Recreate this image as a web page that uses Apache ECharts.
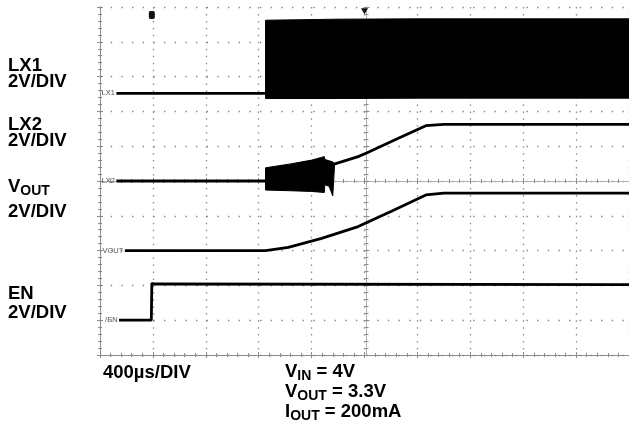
<!DOCTYPE html>
<html><head><meta charset="utf-8">
<script src="https://cdn.jsdelivr.net/npm/echarts@6/dist/echarts.min.js"></script>
<style>html,body{margin:0;padding:0;background:#fff}#c{width:629px;height:434px}</style>
</head><body><div id="c"></div><script>
// time in divisions (400µs/DIV); level in screen divisions from the bottom (2V/DIV)
const lx1Time = [0.31, 3.13];
const lx1Level = [7.52, 7.52];
const lx1BandTime = [3.13, 4.5, 6.0, 8.0, 10.0];
const lx1BandTop = [9.62, 9.65, 9.66, 9.66, 9.66];
const lx1BandBottom = [7.37, 7.37, 7.38, 7.38, 7.38];

const lx2Time = [0.31, 3.13, 4.44, 4.88, 5.05, 5.63, 6.16, 6.50, 10.0];
const lx2Level = [5.0, 5.0, 5.49, 5.70, 5.81, 6.22, 6.59, 6.63, 6.63];
const lx2BurstTime = [3.13, 3.6, 4.0, 4.24, 4.25, 4.33, 4.40, 4.43];
const lx2BurstTop = [5.38, 5.49, 5.60, 5.70, 5.62, 5.58, 5.55, 5.50];
const lx2BurstBottom = [4.74, 4.72, 4.70, 4.67, 4.89, 4.85, 4.57, 5.35];

const voutTime = [0.47, 3.13, 3.56, 4.19, 4.88, 5.52, 6.16, 6.50, 10.0];
const voutLevel = [3.0, 3.0, 3.09, 3.35, 3.69, 4.14, 4.60, 4.65, 4.65];

const enTime = [0.36, 0.97, 0.98, 1.05, 10.0];
const enLevel = [1.0, 1.0, 2.06, 2.04, 2.02];

const channelNames = ['LX1', 'LX2', 'VOUT', '/EN'];
const xDivs = 10, yDivs = 10;

const FONT = '"Liberation Sans", Arial, sans-serif';
const pairs = (t, v) => t.map((x, i) => [x, v[i]]);

function bandSeries(time, top, bottom) {
  return {
    type: 'custom', xAxisIndex: 0, yAxisIndex: 0, silent: true, z: 3,
    data: [[time[0], top[0]]],
    renderItem: function (params, api) {
      const pts = [];
      for (let i = 0; i < time.length; i++) pts.push(api.coord([time[i], top[i]]));
      for (let i = time.length - 1; i >= 0; i--) pts.push(api.coord([time[i], bottom[i]]));
      return { type: 'polygon', shape: { points: pts }, style: { fill: '#000', stroke: '#000', lineWidth: 1 } };
    }
  };
}

function trace(time, level, name) {
  return {
    type: 'line', xAxisIndex: 0, yAxisIndex: 0, data: pairs(time, level),
    showSymbol: false, symbol: 'none', z: 4,
    lineStyle: { color: '#000', width: 2.8 },
    markPoint: {
      symbol: 'circle', symbolSize: 1, itemStyle: { color: 'rgba(0,0,0,0)' },
      data: [{ coord: [time[0], level[0]] }],
      label: { show: true, position: 'left', distance: 1, formatter: name, fontSize: 7.5, color: '#555', fontFamily: FONT }
    }
  };
}

const gridGray = '#8a8a8a';
const axisGray = '#8c8c8c';
function xAx(opts) {
  return Object.assign({
    type: 'value', min: 0, max: xDivs, interval: 1,
    axisLabel: { show: false }, splitLine: { show: false },
    axisLine: { show: true, lineStyle: { color: axisGray, width: 1 } },
    axisTick: { show: true, inside: true, length: 3, lineStyle: { color: axisGray } },
    minorTick: { show: true, splitNumber: 5, length: 2, lineStyle: { color: axisGray } }
  }, opts);
}
function yAx(opts) {
  return Object.assign({
    type: 'value', min: 0, max: yDivs, interval: 1,
    axisLabel: { show: false }, splitLine: { show: false },
    axisLine: { show: true, lineStyle: { color: axisGray, width: 1 } },
    axisTick: { show: true, inside: true, length: 3, lineStyle: { color: axisGray } },
    minorTick: { show: true, splitNumber: 5, length: 2, lineStyle: { color: axisGray } }
  }, opts);
}

const measureCtx = document.createElement('canvas').getContext('2d');
function richLine(x, y, parts) {
  const els = [];
  let cx = x;
  parts.forEach(p => {
    const font = 'bold ' + p[1] + 'px ' + FONT;
    measureCtx.font = font;
    els.push({ type: 'text', x: cx, y: y + p[2], style: { text: p[0], font: font, fill: '#000', verticalAlign: 'middle', align: 'left' } });
    cx += measureCtx.measureText(p[0]).width;
  });
  return els;
}

const BIG = 18.5, SUB = 14;
const graphics = [].concat(
  richLine(8, 66, [['LX1', BIG, 0]]),
  richLine(8, 82, [['2V/DIV', BIG, 0]]),
  richLine(8, 125, [['LX2', BIG, 0]]),
  richLine(8, 141, [['2V/DIV', BIG, 0]]),
  richLine(8, 187, [['V', BIG, 0], ['OUT', SUB, 4]]),
  richLine(8, 212, [['2V/DIV', BIG, 0]]),
  richLine(8, 294, [['EN', BIG, 0]]),
  richLine(8, 313, [['2V/DIV', BIG, 0]]),
  richLine(103, 373, [['400µs/DIV', BIG, 0]]),
  richLine(285, 372, [['V', BIG, 0], ['IN', SUB, 4], [' = 4V', BIG, 0]]),
  richLine(285, 392, [['V', BIG, 0], ['OUT', SUB, 4], [' = 3.3V', BIG, 0]]),
  richLine(285, 412, [['I', BIG, 0], ['OUT', SUB, 4], [' = 200mA', BIG, 0]])
);

const chart = echarts.init(document.getElementById('c'), null, { renderer: 'canvas' });
chart.setOption({
  animation: false,
  backgroundColor: '#fff',
  grid: { left: 100, top: 7, width: 533, height: 348, containLabel: false },
  xAxis: [
    xAx({ position: 'bottom', splitLine: { show: true, lineStyle: { color: gridGray, width: 1.3, type: [1.5, 5.46] } } }),
    xAx({ position: 'top' }),
    xAx({ position: 'bottom', offset: -174, axisLine: { show: true, lineStyle: { color: '#b0b0b0' } } }),
    xAx({ position: 'bottom', offset: -174, axisLine: { show: false }, axisTick: { show: true, inside: false, length: 3, lineStyle: { color: axisGray } } })
  ],
  yAxis: [
    yAx({ position: 'left', splitLine: { show: true, lineStyle: { color: gridGray, width: 1.3, type: [1.5, 9.16] } } }),
    yAx({ position: 'right' }),
    yAx({ position: 'left', offset: -266.5, axisLine: { show: true, lineStyle: { color: '#b0b0b0' } } }),
    yAx({ position: 'left', offset: -266.5, axisLine: { show: false }, axisTick: { show: true, inside: false, length: 3, lineStyle: { color: axisGray } } })
  ],
  series: [
    bandSeries(lx1BandTime, lx1BandTop, lx1BandBottom),
    trace(lx1Time, lx1Level, channelNames[0]),
    bandSeries(lx2BurstTime, lx2BurstTop, lx2BurstBottom),
    trace(lx2Time, lx2Level, channelNames[1]),
    trace(voutTime, voutLevel, channelNames[2]),
    trace(enTime, enLevel, channelNames[3]),
    {
      type: 'scatter', xAxisIndex: 0, yAxisIndex: 0, silent: true, z: 5,
      data: [],
      markPoint: {
        data: [
          { coord: [enTime[2], 9.77], symbol: 'roundRect', symbolSize: [6, 8], itemStyle: { color: '#111' } },
          { coord: [xDivs / 2, 9.88], symbol: 'triangle', symbolRotate: 180, symbolSize: [7, 6], itemStyle: { color: '#111' } }
        ],
        label: { show: false }
      }
    }
  ],
  graphic: graphics
});
</script></body></html>
